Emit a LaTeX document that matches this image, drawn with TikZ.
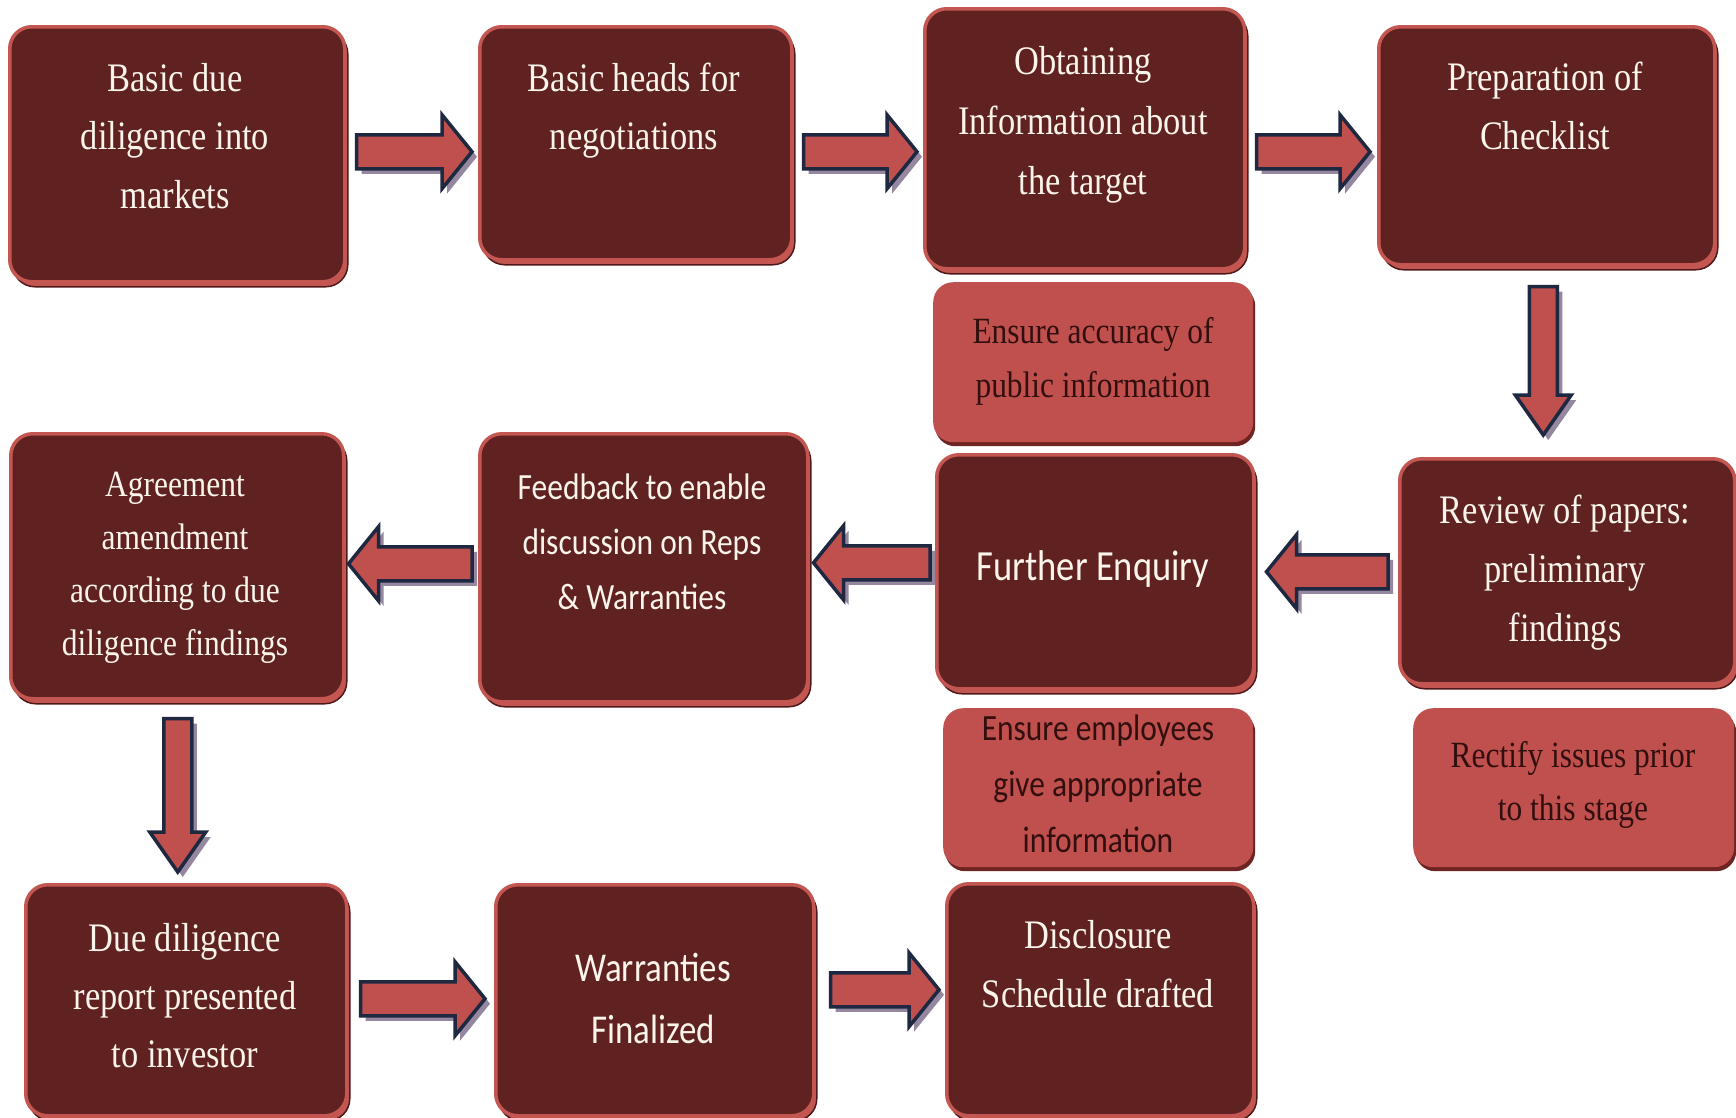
\documentclass[tikz,border=0pt]{standalone}
\usepackage{fontspec}
\setmainfont{Liberation Serif}[FakeStretch=0.85]
\newfontfamily\sansf{Carlito}[FakeStretch=0.85]
\usetikzlibrary{calc,shadows}
\definecolor{dfill}{RGB}{96,33,33}
\definecolor{dborder}{RGB}{196,86,82}
\definecolor{dedge}{RGB}{80,25,25}
\definecolor{lfill}{RGB}{192,80,77}
\definecolor{lshadow}{RGB}{110,36,34}
\definecolor{afill}{RGB}{192,80,77}
\definecolor{aline}{RGB}{30,40,65}
\definecolor{ashadow}{RGB}{150,135,160}
\definecolor{ltxt}{RGB}{250,244,235}
\definecolor{dtxt}{RGB}{50,15,15}
\newcommand{\ml}[1]{\begin{tabular}[t]{@{}c@{}}#1\end{tabular}}
% right-pointing block arrow: src, dst, dy, start gap, end gap
\newcommand{\arrR}[5]{\draw[blockarrow] let \p1=($(#1.east)+(#4,#3)$), \p2=(#2.west) in
  (\x1,\y1+17pt) -- ({\x2-#5pt-30pt},\y1+17pt) -- ({\x2-#5pt-30pt},\y1+37pt) -- ({\x2-#5pt},\y1)
  -- ({\x2-#5pt-30pt},\y1-37pt) -- ({\x2-#5pt-30pt},\y1-17pt) -- (\x1,\y1-17pt) -- cycle;}
\newcommand{\arrL}[5]{\draw[blockarrow] let \p1=($(#1.west)+(-#4,#3)$), \p2=(#2.east) in
  (\x1,\y1+17pt) -- ({\x2+#5pt+30pt},\y1+17pt) -- ({\x2+#5pt+30pt},\y1+37pt) -- ({\x2+#5pt},\y1)
  -- ({\x2+#5pt+30pt},\y1-37pt) -- ({\x2+#5pt+30pt},\y1-17pt) -- (\x1,\y1-17pt) -- cycle;}
\newcommand{\arrD}[5]{\draw[blockarrow] let \p1=($(#1.south)+(#3,#4)$), \p2=(#2.north) in
  (\x1-14pt,\y1) -- (\x1-14pt,{\y2+#5pt+40pt}) -- (\x1-28pt,{\y2+#5pt+40pt}) -- (\x1,{\y2+#5pt})
  -- (\x1+28pt,{\y2+#5pt+40pt}) -- (\x1+14pt,{\y2+#5pt+40pt}) -- (\x1+14pt,\y1) -- cycle;}
\begin{document}
\begin{tikzpicture}[x=1pt,y=-1pt,
  dbox/.style={rectangle, rounded corners=22pt, fill=dfill, draw=dborder, line width=3.5pt,
    inner sep=0pt, anchor=north west,
    drop shadow={shadow xshift=3pt, shadow yshift=-5pt, fill=dborder, draw=dedge, line width=1.5pt, opacity=1}},
  lbox/.style={rectangle, rounded corners=20pt, fill=lfill, inner sep=0pt, anchor=north west,
    drop shadow={shadow xshift=2pt, shadow yshift=-4pt, fill=lshadow, opacity=1}},
  blockarrow/.style={fill=afill, draw=aline, line width=3.5pt, line join=miter,
    drop shadow={shadow xshift=5pt, shadow yshift=-5pt, fill=ashadow, opacity=1}},
  stxt/.style 2 args={text=ltxt, font=\fontsize{#1}{#2}\selectfont, anchor=base, inner sep=0pt},
  sstxt/.style 2 args={text=ltxt, font=\sansf\fontsize{#1}{#2}\selectfont, anchor=base, inner sep=0pt},
  dktxt/.style 2 args={text=dtxt, font=\fontsize{#1}{#2}\selectfont, anchor=base, inner sep=0pt},
  dkstxt/.style 2 args={text=dtxt, font=\sansf\fontsize{#1}{#2}\selectfont, anchor=base, inner sep=0pt}]
\clip (0,0) rectangle (1736,1117);
\fill[white] (0,0) rectangle (1736,1117);

% boxes
\node[dbox, minimum width=335pt, minimum height=255pt] (b1) at (8,25) {};
\node[dbox, minimum width=312pt, minimum height=233pt] (b2) at (478,25) {};
\node[dbox, minimum width=320pt, minimum height=260pt] (b3) at (923,7) {};
\node[dbox, minimum width=336pt, minimum height=238pt] (b4) at (1377,25) {};
\node[lbox, minimum width=320pt, minimum height=160pt] (l1) at (933,282) {};
\node[dbox, minimum width=333pt, minimum height=265pt] (b5) at (9,432) {};
\node[dbox, minimum width=328pt, minimum height=268pt] (b6) at (478,432) {};
\node[dbox, minimum width=317pt, minimum height=234pt] (b7) at (935,453) {};
\node[dbox, minimum width=335pt, minimum height=225pt] (b8) at (1398,457) {};
\node[lbox, minimum width=310pt, minimum height=159pt] (l2) at (943,708) {};
\node[lbox, minimum width=321pt, minimum height=159pt] (l3) at (1413,708) {};
\node[dbox, minimum width=321pt, minimum height=231pt] (b9) at (24,883) {};
\node[dbox, minimum width=318pt, minimum height=231pt] (b10) at (494,883) {};
\node[dbox, minimum width=307pt, minimum height=232pt] (b11) at (945,882) {};

% texts
\node[stxt={40.5}{58.5}] (t1) at (175,91) {\ml{Basic due\\diligence into\\markets}};
\node[stxt={40.5}{58.5}] (t2) at (634,91) {\ml{Basic heads for\\negotiations}};
\node[stxt={40.5}{60}] (t3) at (1083,74) {\ml{Obtaining\\Information about\\the target}};
\node[stxt={40.5}{59.5}] (t4) at (1545,90) {\ml{Preparation of\\Checklist}};
\node[dktxt={37}{54}] (tl1) at (1093,343) {\ml{Ensure accuracy of\\public information}};
\node[stxt={37}{53.3}] (t5) at (175,496) {\ml{Agreement\\amendment\\according to due\\diligence findings}};
\node[sstxt={37}{55}] (t6) at (642,499) {\ml{Feedback to enable\\discussion on Reps\\\& Warranties}};
\node[sstxt={43}{50}] (t7) at (1093,580) {Further Enquiry};
\node[stxt={40.5}{59}] (t8) at (1565,523) {\ml{Review of papers:\\preliminary\\findings}};
\node[dkstxt={37}{56}] (tl2) at (1098,740) {\ml{Ensure employees\\give appropriate\\information}};
\node[dktxt={37}{53}] (tl3) at (1573,767) {\ml{Rectify issues prior\\to this stage}};
\node[stxt={40.5}{58}] (t9) at (185,951) {\ml{Due diligence\\report presented\\to investor}};
\node[sstxt={41}{62}] (t10) at (653,981) {\ml{Warranties\\Finalized}};
\node[stxt={40.5}{59}] (t11) at (1098,948) {\ml{Disclosure\\Schedule drafted}};

% arrows
\arrR{b1}{b2}{-2.5}{10}{6}
\arrR{b2}{b3}{8.5}{10}{6}
\arrR{b3}{b4}{13}{10}{7}
\arrD{b4}{b8}{-3.5}{20}{22}
\arrL{b8}{b7}{0.5}{10}{11}
\arrL{b7}{b6}{-9}{5}{4}
\arrL{b6}{b5}{-4}{6}{3}
\arrD{b5}{b9}{0.5}{18}{11}
\arrR{b9}{b10}{-1.5}{12}{9}
\arrR{b10}{b11}{-10.5}{15}{6}
\end{tikzpicture}
\end{document}
